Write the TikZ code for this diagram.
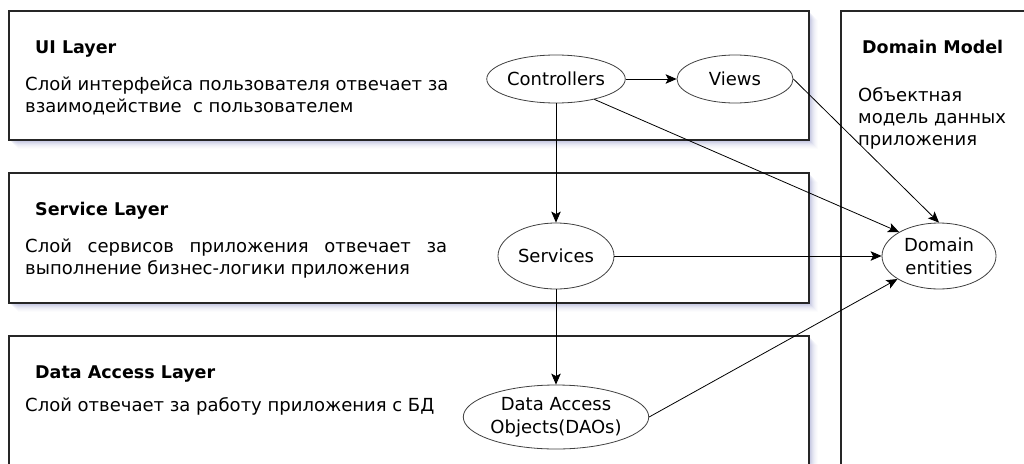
\documentclass[tikz,border=0pt]{standalone}
\usepackage{fontspec}
\setmainfont{DejaVu Sans}
\usetikzlibrary{shapes.geometric,arrows.meta}

\definecolor{shadowc}{RGB}{140,145,200}

\tikzset{
  layer/.style={draw=black!85, line width=1.1pt, fill=white},
  ell/.style={ellipse, draw=black!75, line width=0.8pt, fill=white, inner sep=0pt,
              align=center, font=\fontsize{18}{23}\selectfont},
  conn/.style={draw=black, line width=0.8pt,
               -{Stealth[length=11pt,width=9.5pt,inset=2.5pt]}},
  head/.style={anchor=base west, inner sep=0pt, font=\bfseries\fontsize{17.5}{21}\selectfont},
  desc/.style={anchor=base west, inner sep=0pt, font=\fontsize{18}{22}\selectfont},
}

% soft shadow to the lower right of a layer box
\newcommand\layershadow[4]{%
  \foreach \k/\o in {1/0.14,2/0.12,3/0.11,4/0.09,5/0.07,6/0.05,7/0.04,8/0.03,9/0.02}{%
    \fill[shadowc, opacity=\o] (#1+\k,#2+\k) rectangle (#3+\k,#4+\k);}%
}

\begin{document}
\begin{tikzpicture}[x=1pt,y=-1pt]
\clip (0,0) rectangle (1024,463);
\fill[white] (0,0) rectangle (1024,463);

% layer boxes
\layershadow{9}{11}{809}{140}
\layershadow{9}{173}{809}{303}
\layershadow{9}{336}{809}{480}
\draw[layer] (9,11) rectangle (809,140);
\draw[layer] (9,173) rectangle (809,303);
\draw[layer] (9,336) rectangle (809,480);
\draw[layer] (841,11) rectangle (1040,480);

% UI layer text
\node[head] (uih) at (35,53) {UI Layer};
\node[desc] (uid1) at (25,90) {Слой интерфейса пользователя отвечает за};
\node[desc] (uid2) at (25,112) {взаимодействие\ \ с пользователем};

% service layer text
\node[head] (svh) at (35,215) {Service Layer};
\node[desc] (svd1) at (25,252) {\hbox to 422pt{Слой\hfill сервисов\hfill приложения\hfill отвечает\hfill за}};
\node[desc] (svd2) at (25,274) {выполнение бизнес-логики приложения};

% data access layer text
\node[head] (dah) at (35,378) {Data Access Layer};
\node[desc] (dad1) at (25,411) {Слой отвечает за работу приложения с БД};

% domain model text
\node[head] (dmh) at (862,53) {Domain Model};
\node[desc] (dmd1) at (858,101) {Объектная};
\node[desc] (dmd2) at (858,123) {модель данных};
\node[desc] (dmd3) at (858,145) {приложения};

% components
\node[ell, minimum width=116pt, minimum height=48pt] (c) at (556,79) {Controllers};
\node[ell, minimum width=116pt, minimum height=48pt] (v) at (735,79) {Views};
\node[ell, minimum width=116pt, minimum height=66pt] (s) at (556,256) {Services};
\node[ell, minimum width=114pt, minimum height=66pt] (d) at (939,256) {Domain\\entities};
\node[ell, minimum width=182pt, minimum height=64pt] (a) at (556,417) {Data Access\\Objects(DAOs)};

% dependencies
\draw[conn] (c) -- (v);
\draw[conn] (c) -- (s);
\draw[conn] (c.-28) -- (d.149);
\draw[conn] (v.east) -- (d.north);
\draw[conn] (s) -- (d);
\draw[conn] (s) -- (a);
\draw[conn] (a.east) -- (d.209);
\end{tikzpicture}
\end{document}
